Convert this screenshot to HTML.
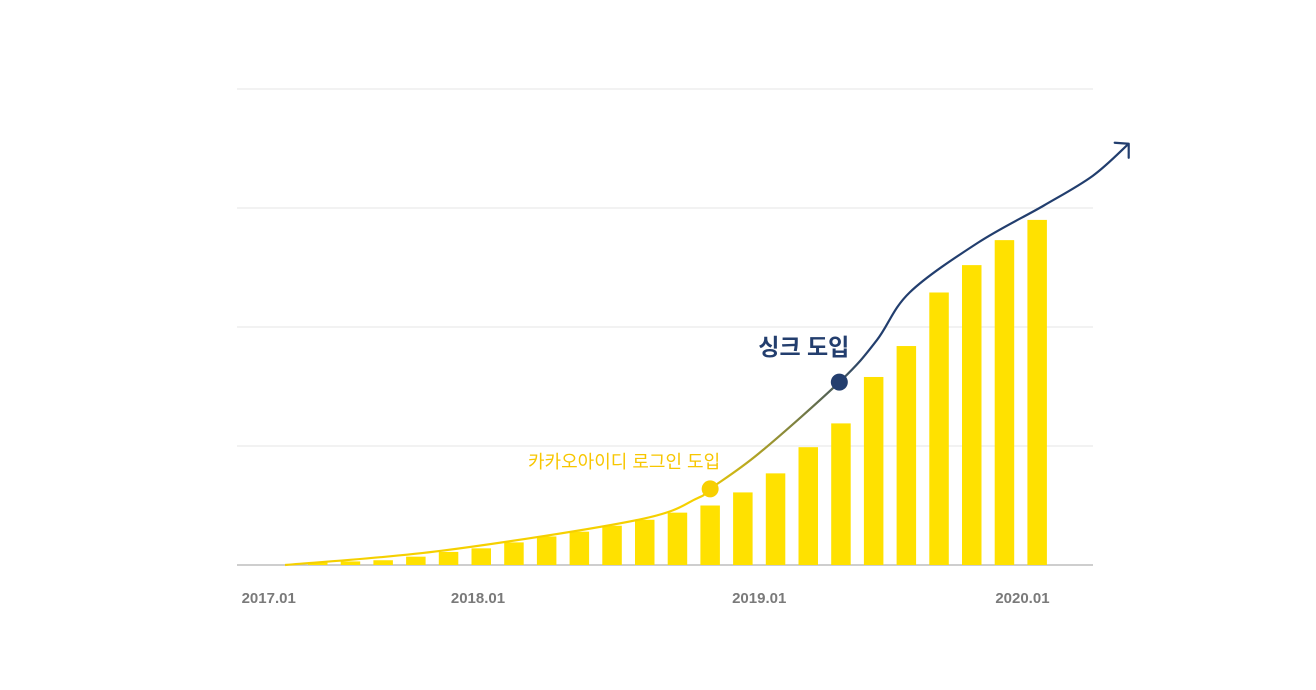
<!DOCTYPE html>
<html><head><meta charset="utf-8">
<style>
html,body{margin:0;padding:0;background:#fff;}
svg{display:block;font-family:"Liberation Sans","Noto Sans CJK KR",sans-serif;}
</style></head>
<body>
<svg id="chart" width="1316" height="690" viewBox="0 0 1316 690">
<defs>
<linearGradient id="lg" gradientUnits="userSpaceOnUse" x1="700" y1="0" x2="870" y2="0">
<stop offset="0" stop-color="#f5d000"/><stop offset="0.5" stop-color="#8a8a3a"/><stop offset="1" stop-color="#223e6e"/>
</linearGradient>
</defs>
<g id="grid"></g>
<g id="bars"></g>
<g id="curve"></g>
<g id="labels"></g>
</svg>
<script>
const categories = ["2017.02","2017.03","2017.04","2017.05","2017.06","2017.07","2017.08","2017.09","2017.10","2017.11","2017.12","2018.01","2018.02","2018.03","2018.04","2018.05","2018.06","2018.07","2018.08","2018.09","2018.10","2018.11","2018.12"];
const values = [2,3,4,7,11,14,19,24,28,33,38,44,50,61,77,99,119,158,184,229,252,273,290];
const yTicks = [0,100,200,300,400];
const xTickLabels = ["2017.01","2018.01","2019.01","2020.01"];
const xTickPos = [-1.5,4.9,13.5,21.55];
const trendIndex = [-1.0,3.8,9.8,11.6,12.0,13.5,16.0,17.1,18.1,20.2,22.2,23.7,24.8];
const trendValue = [0,12,38,56,64,94,155,189,229,271,302,327,354];
const yellowMark = 12.0, yellowLabel = "카카오아이디 로그인 도입";
const navyMark = 15.95, navyLabel = "싱크 도입";

const NS="http://www.w3.org/2000/svg";
const x0=308+9.75, step=32.7, barW=19.5;
const X=i=>x0+i*step;
const Y=v=>565-v*1.19;
function mk(t,a,p){const e=document.createElementNS(NS,t);for(const k in a)e.setAttribute(k,a[k]);p.appendChild(e);return e;}
const grid=document.getElementById('grid');
yTicks.forEach((t,i)=>{
  const l=mk('line',{x1:237,x2:1093,y1:Y(t),y2:Y(t),stroke:i===0?'#bdbdbd':'#e6e6e6','stroke-width':i===0?1.5:1},grid);
  
  
});
const bars=document.getElementById('bars');
values.forEach((v,i)=>{
  const r=mk('rect',{x:X(i)-barW/2,y:Y(v),width:barW,height:565-Y(v),fill:'#ffe100'},bars);
  
  
});
// smooth trend curve
const pts=trendIndex.map((t,i)=>[X(t),Y(trendValue[i])]);
let d='M'+pts[0][0]+','+pts[0][1];
for(let i=0;i<pts.length-1;i++){
  const p0=pts[Math.max(0,i-1)],p1=pts[i],p2=pts[i+1],p3=pts[Math.min(pts.length-1,i+2)];
  const c1=[p1[0]+(p2[0]-p0[0])/6,p1[1]+(p2[1]-p0[1])/6];
  const c2=[p2[0]-(p3[0]-p1[0])/6,p2[1]-(p3[1]-p1[1])/6];
  d+=` C${c1[0]},${c1[1]} ${c2[0]},${c2[1]} ${p2[0]},${p2[1]}`;
}
const cg=document.getElementById('curve');
const path=mk('path',{d:d,fill:'none',stroke:'url(#lg)','stroke-width':2.2},cg);


const tip=pts[pts.length-1];
const ah=mk('path',{d:`M${tip[0]-14},${tip[1]-1} L${tip[0]},${tip[1]} L${tip[0]},${tip[1]+14}`,fill:'none',stroke:'#223e6e','stroke-width':2.2,'stroke-linecap':'round','stroke-linejoin':'round'},cg);


function curveY(x){const L=path.getTotalLength();let lo=0,hi=L;for(let k=0;k<40;k++){const m=(lo+hi)/2;if(path.getPointAtLength(m).x<x)lo=m;else hi=m;}return path.getPointAtLength(lo).y;}
const yx=X(yellowMark), nx=X(navyMark);
const yd=mk('circle',{cx:yx,cy:curveY(yx),r:8.5,fill:'#f8d000'},cg);


const nd=mk('circle',{cx:nx,cy:curveY(nx),r:8.5,fill:'#233e6e'},cg);


const lab=document.getElementById('labels');
const t1=mk('text',{x:yx+10,y:curveY(yx)-21,'text-anchor':'end','font-size':18,fill:'#f7c600'},lab);
t1.textContent=yellowLabel;


const t2=mk('text',{x:nx+10,y:curveY(nx)-27,'text-anchor':'end','font-size':23,'font-weight':'bold',fill:'#233e6e'},lab);
t2.textContent=navyLabel;


xTickLabels.forEach((s,i)=>{
  const t=mk('text',{x:X(xTickPos[i]),y:603,'text-anchor':'middle','font-size':15,'font-weight':'bold',fill:'#7a7a7a'},lab);
  t.textContent=s;
  
  
});
</script>
</body></html>
